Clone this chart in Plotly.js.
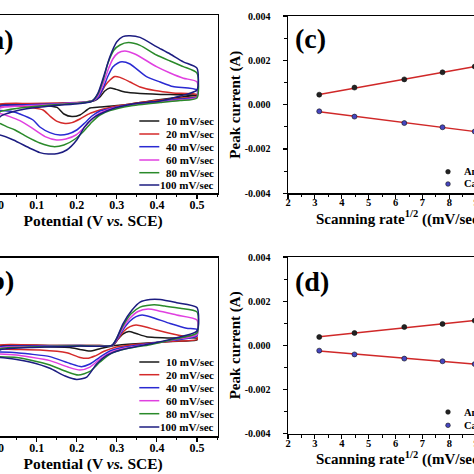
<!DOCTYPE html>
<html><head><meta charset="utf-8">
<script src="https://cdn.plot.ly/plotly-3.0.1.min.js"></script>
<style>
html,body{margin:0;padding:0;overflow:hidden;width:474px;height:474px;background:#fff}
#chart{position:absolute;left:-60px;top:0;width:660px;height:474px}
</style>
</head><body><div id="chart"></div>
<script>
// ---------- DATA ----------
const scanRates = ['10 mV/sec','20 mV/sec','40 mV/sec','60 mV/sec','80 mV/sec','100 mV/sec'];
const cvColors = ['#1a1a1a','#d42a2a','#2a2ad2','#e040e0','#2a8a2a','#1c1c80'];

// Panel (a): potential (V vs. SCE) and current (mA), forward then reverse sweep
const a10V = [0.000,0.008,0.083,0.158,0.220,0.245,0.258,0.270,0.283,0.298,0.320,0.358,0.433,0.500,0.500,0.483,0.400,0.315,0.258,0.233,0.208,0.188,0.168,0.151,0.121,0.058,0.008,0.000];
const a10I = [-0.025,0.01,0.025,0.04,0.06,0.11,0.20,0.35,0.425,0.39,0.325,0.29,0.26,0.25,0.24,0.225,0.125,0.0,-0.05,-0.075,-0.25,-0.29,-0.225,-0.06,-0.01,-0.005,-0.005,-0.01];
const a20V = [0.000,0.008,0.083,0.158,0.220,0.245,0.258,0.270,0.283,0.295,0.308,0.333,0.358,0.395,0.440,0.500,0.500,0.433,0.358,0.283,0.258,0.233,0.208,0.188,0.171,0.151,0.133,0.116,0.083,0.058,0.008,0.000];
const a20I = [-0.04,0.025,0.04,0.05,0.075,0.125,0.25,0.475,0.625,0.71,0.69,0.575,0.45,0.36,0.30,0.26,0.21,0.15,0.06,-0.06,-0.125,-0.21,-0.35,-0.44,-0.46,-0.41,-0.275,-0.125,-0.06,-0.03,-0.025,-0.04];
const a40V = [0.000,0.008,0.058,0.133,0.208,0.238,0.253,0.266,0.278,0.290,0.303,0.313,0.333,0.374,0.408,0.440,0.500,0.500,0.458,0.408,0.333,0.283,0.258,0.238,0.220,0.200,0.178,0.158,0.133,0.108,0.091,0.058,0.041,0.008,0.000];
const a40I = [-0.125,-0.025,0.0,0.025,0.06,0.10,0.175,0.425,0.725,0.95,1.05,1.08,1.025,0.71,0.575,0.46,0.375,0.20,0.15,0.09,0.01,-0.09,-0.15,-0.275,-0.45,-0.625,-0.725,-0.75,-0.69,-0.55,-0.375,-0.225,-0.17,-0.14,-0.14];
const a60V = [0.000,0.008,0.058,0.133,0.208,0.238,0.253,0.266,0.278,0.290,0.303,0.320,0.345,0.399,0.433,0.466,0.500,0.500,0.458,0.408,0.333,0.283,0.258,0.238,0.220,0.198,0.173,0.150,0.121,0.083,0.058,0.033,0.008,0.000];
const a60I = [-0.20,-0.075,-0.025,0.01,0.06,0.10,0.225,0.525,0.875,1.15,1.30,1.35,1.275,0.96,0.80,0.67,0.58,0.19,0.125,0.075,0.0,-0.10,-0.20,-0.35,-0.55,-0.75,-0.85,-0.875,-0.79,-0.54,-0.39,-0.29,-0.21,-0.20];
const a80V = [0.000,0.008,0.058,0.133,0.208,0.238,0.253,0.266,0.278,0.293,0.308,0.329,0.358,0.399,0.433,0.466,0.500,0.500,0.458,0.408,0.333,0.283,0.258,0.238,0.218,0.196,0.168,0.141,0.108,0.075,0.046,0.025,0.008,0.000];
const a80I = [-0.45,-0.175,-0.075,0.0,0.05,0.10,0.275,0.625,1.05,1.375,1.50,1.56,1.49,1.25,1.10,0.96,0.80,0.175,0.11,0.06,-0.025,-0.14,-0.25,-0.425,-0.65,-0.85,-1.00,-1.04,-0.95,-0.79,-0.625,-0.54,-0.46,-0.45];
const a100V = [0.000,0.008,0.058,0.133,0.208,0.238,0.253,0.266,0.283,0.300,0.315,0.333,0.358,0.399,0.433,0.466,0.500,0.500,0.458,0.408,0.340,0.295,0.258,0.241,0.220,0.200,0.175,0.153,0.129,0.108,0.083,0.042,0.008,0.000];
const a100I = [-0.75,-0.30,-0.125,-0.025,0.04,0.09,0.30,0.675,1.21,1.58,1.71,1.73,1.69,1.46,1.275,1.08,0.92,0.375,0.225,0.10,0.025,-0.075,-0.225,-0.325,-0.54,-0.875,-1.125,-1.21,-1.225,-1.19,-1.08,-0.875,-0.75,-0.74];

// Panel (b)
const b10V = [0.000,0.008,0.133,0.258,0.290,0.303,0.315,0.330,0.348,0.374,0.440,0.500,0.500,0.433,0.358,0.295,0.258,0.233,0.208,0.183,0.108,0.008,0.000];
const b10I = [-0.03,-0.01,-0.01,-0.01,-0.01,0.15,0.275,0.34,0.29,0.21,0.175,0.17,0.125,0.09,0.04,-0.01,-0.09,-0.15,-0.11,-0.06,-0.04,-0.025,-0.03];
const b20V = [0.000,0.008,0.133,0.258,0.290,0.303,0.318,0.333,0.348,0.370,0.399,0.465,0.500,0.500,0.433,0.358,0.295,0.270,0.245,0.229,0.208,0.175,0.108,0.046,0.008,0.000];
const b20I = [-0.10,0.0,-0.01,-0.01,-0.01,0.15,0.35,0.46,0.50,0.46,0.375,0.225,0.21,0.14,0.09,0.025,-0.06,-0.15,-0.275,-0.33,-0.31,-0.19,-0.125,-0.11,-0.10,-0.10];
const b40V = [0.000,0.008,0.083,0.208,0.288,0.300,0.315,0.333,0.348,0.363,0.383,0.433,0.474,0.500,0.500,0.445,0.383,0.320,0.283,0.258,0.233,0.212,0.183,0.133,0.083,0.050,0.008,0.000];
const b40I = [-0.175,-0.05,-0.025,-0.01,-0.01,0.125,0.375,0.60,0.71,0.75,0.71,0.54,0.42,0.39,0.225,0.125,0.04,-0.05,-0.15,-0.30,-0.475,-0.54,-0.46,-0.29,-0.225,-0.19,-0.175,-0.175];
const b60V = [0.000,0.008,0.083,0.208,0.288,0.300,0.315,0.333,0.353,0.378,0.403,0.449,0.500,0.500,0.445,0.383,0.320,0.283,0.258,0.233,0.208,0.178,0.133,0.083,0.050,0.008,0.000];
const b60I = [-0.25,-0.075,-0.04,-0.02,-0.01,0.15,0.425,0.675,0.84,0.90,0.86,0.75,0.625,0.26,0.14,0.025,-0.075,-0.19,-0.35,-0.55,-0.625,-0.55,-0.39,-0.30,-0.25,-0.225,-0.225];
const b80V = [0.000,0.008,0.083,0.208,0.288,0.300,0.315,0.335,0.358,0.393,0.420,0.458,0.500,0.500,0.445,0.383,0.320,0.283,0.258,0.233,0.204,0.171,0.133,0.083,0.050,0.008,0.000];
const b80I = [-0.31,-0.10,-0.05,-0.02,-0.01,0.175,0.475,0.775,0.95,1.01,0.975,0.92,0.83,0.30,0.15,0.01,-0.10,-0.225,-0.425,-0.66,-0.75,-0.65,-0.50,-0.375,-0.31,-0.29,-0.29];
const b100V = [0.000,0.008,0.083,0.208,0.288,0.300,0.315,0.338,0.358,0.383,0.408,0.449,0.500,0.500,0.440,0.383,0.308,0.275,0.250,0.225,0.200,0.171,0.133,0.083,0.050,0.008,0.000];
const b100I = [-0.325,-0.125,-0.06,-0.025,-0.01,0.175,0.525,0.875,1.075,1.14,1.14,1.06,0.94,0.35,0.16,0.03,-0.13,-0.26,-0.47,-0.80,-0.86,-0.775,-0.58,-0.425,-0.36,-0.31,-0.31];

// Panels (c) and (d): peak current (A) vs sqrt(scan rate)
const sqrtRate = [3.162, 4.472, 6.325, 7.746, 8.944, 10.000];
const cAnodic = [0.00045, 0.00077, 0.00114, 0.00146, 0.00172, 0.00195];
const cCathodic = [-0.00030, -0.00054, -0.00083, -0.00102, -0.00121, -0.00137];
const dAnodic = [0.00038, 0.00056, 0.00083, 0.00097, 0.00112, 0.00126];
const dCathodic = [-0.00024, -0.00041, -0.00060, -0.00072, -0.00085, -0.00096];
const peakNames = ['Anodic', 'Cathodic'];
const peakTickVals = [-0.004, -0.002, 0, 0.002, 0.004];
const peakTickText = ['-0.004', '-0.002', '0.000', '0.002', '0.004'];
const panelLabels = ['(a)', '(b)', '(c)', '(d)'];

// ---------- BUILD ----------
const W = 660, H = 474, OFF = 60;
const PX = p => (p + OFF) / W;     // page x -> paper
const PY = p => 1 - p / H;         // page y -> paper
const FONT = 'Liberation Serif, Times New Roman, serif';

const aSets = [[a10V,a10I],[a20V,a20I],[a40V,a40I],[a60V,a60I],[a80V,a80I],[a100V,a100I]];
const bSets = [[b10V,b10I],[b20V,b20I],[b40V,b40I],[b60V,b60I],[b80V,b80I],[b100V,b100I]];

const traces = [];
aSets.forEach((s, i) => traces.push({x: s[0], y: s[1], xaxis: 'x', yaxis: 'y', mode: 'lines', name: scanRates[i],
  line: {color: cvColors[i], width: 1.5, shape: 'spline', smoothing: 0.6}, showlegend: false}));
bSets.forEach((s, i) => traces.push({x: s[0], y: s[1], xaxis: 'x2', yaxis: 'y2', mode: 'lines', name: scanRates[i],
  line: {color: cvColors[i], width: 1.5, shape: 'spline', smoothing: 0.6}, showlegend: false}));

function fit(xs, ys) {
  const n = xs.length, mx = xs.reduce((a,b)=>a+b)/n, my = ys.reduce((a,b)=>a+b)/n;
  let sxy = 0, sxx = 0;
  xs.forEach((x, i) => { sxy += (x-mx)*(ys[i]-my); sxx += (x-mx)*(x-mx); });
  const k = sxy/sxx, b = my - k*mx;
  const x0 = Math.min(...xs), x1 = Math.max(...xs);
  return {x: [x0, x1], y: [k*x0+b, k*x1+b]};
}
const markerCols = ['#222222', '#4646c0'];
[[cAnodic, cCathodic, 'x3', 'y3'], [dAnodic, dCathodic, 'x4', 'y4']].forEach(p => {
  [p[0], p[1]].forEach((ys, j) => {
    const f = fit(sqrtRate, ys);
    traces.push({x: f.x, y: f.y, xaxis: p[2], yaxis: p[3], mode: 'lines', line: {color: '#d02828', width: 1.5}, showlegend: false, hoverinfo: 'skip'});
    traces.push({x: sqrtRate, y: ys, xaxis: p[2], yaxis: p[3], mode: 'markers', name: peakNames[j],
      marker: {color: markerCols[j], size: 5, line: {color: '#111', width: 0.6}}, showlegend: false});
  });
});

const axBase = {showline: true, linecolor: '#000', linewidth: 1.5, mirror: true, ticks: 'outside',
  ticklen: 4, tickwidth: 1.2, tickcolor: '#000', showgrid: false, zeroline: false,
  tickfont: {family: FONT, size: 12, color: '#000', weight: 'bold'}};
const titleFont = {family: FONT, size: 15.5, color: '#000', weight: 'bold'};

function potAxis(dom, anchor) {
  return Object.assign({}, axBase, {domain: dom, anchor: anchor, range: [-0.07, 0.552], dtick: 0.1, tick0: 0,
    tickformat: '.1f', ticklabelstandoff: -4,
    minor: {dtick: 0.05, ticklen: 2.5, tickwidth: 1, tickcolor: '#000', ticks: 'outside'},
    title: {text: 'Potential (V <i>vs.</i> SCE)', font: titleFont, standoff: 2}});
}
function curAxis(dom, anchor, rng) {
  return Object.assign({}, axBase, {domain: dom, anchor: anchor, range: rng, dtick: 1});
}
function rateAxis(dom, anchor) {
  return Object.assign({}, axBase, {domain: dom, anchor: anchor, range: [2, 11], dtick: 1, tick0: 2,
    ticklabelstandoff: -5,
    tickfont: {family: FONT, size: 10.5, color: '#000', weight: 'bold'},
    minor: {dtick: 0.5, ticklen: 2.5, tickwidth: 1, tickcolor: '#000', ticks: 'outside'},
    title: {text: 'Scanning rate<sup>1/2</sup> ((mV/sec)<sup>1/2</sup>)', font: Object.assign({}, titleFont, {size: 15}), standoff: 1}});
}
function peakAxis(dom, anchor) {
  return Object.assign({}, axBase, {domain: dom, anchor: anchor, range: [-0.004, 0.004],
    tickmode: 'array', tickvals: peakTickVals, ticktext: peakTickText, ticklabelstandoff: 10,
    tickfont: {family: FONT, size: 10, color: '#000', weight: 'bold'},
    minor: {dtick: 0.001, ticklen: 2.5, tickwidth: 1, tickcolor: '#000', ticks: 'outside'},
    title: {text: 'Peak current (A)', font: Object.assign({}, titleFont, {size: 15}), standoff: 0}});
}

const xL = [PX(-31.46), PX(217.8)], xR = [PX(288), PX(530)];
const yA = [PY(193), PY(15)], yB = [PY(436), PY(257.5)], yC = [PY(193.3), PY(16)], yD = [PY(433.7), PY(257)];

const annotations = [], shapes = [];
// panel labels
const labelPos = [[15.5, 39, 'right'], [15.5, 280, 'right'], [293, 38, 'left'], [293, 281, 'left']];
panelLabels.forEach((t, i) => annotations.push({text: t, xref: 'paper', yref: 'paper', x: PX(labelPos[i][0]), y: PY(labelPos[i][1]),
  xanchor: labelPos[i][2], yanchor: 'middle', showarrow: false, font: {family: FONT, size: 28, color: '#000', weight: 'bold'}}));
// CV legends
const legRowsA = [121, 134, 146.7, 160, 172.7, 185];
const legRowsB = [362, 374.7, 387.7, 400.7, 413.7, 427];
[legRowsA, legRowsB].forEach(rows => {
  rows.forEach((ry, i) => {
    shapes.push({type: 'line', xref: 'paper', yref: 'paper', x0: PX(139.3), x1: PX(159.3), y0: PY(ry), y1: PY(ry),
      line: {color: cvColors[i], width: 1.5}});
    annotations.push({text: scanRates[i], xref: 'paper', yref: 'paper', x: PX(215.5), y: PY(ry), xanchor: 'right', yanchor: 'middle',
      showarrow: false, font: {family: FONT, size: 11, color: '#000', weight: 'bold'}});
  });
});
// peak legends
[[171.7, 184], [412, 425.3]].forEach(rows => {
  rows.forEach((ry, j) => {
    shapes.push({type: 'circle', xref: 'paper', yref: 'paper', xsizemode: 'pixel', ysizemode: 'pixel',
      xanchor: PX(448), yanchor: PY(ry), x0: -2.3, x1: 2.3, y0: -2.3, y1: 2.3,
      fillcolor: markerCols[j], line: {color: '#111', width: 0.6}});
    annotations.push({text: peakNames[j], xref: 'paper', yref: 'paper', x: PX(461.5), y: PY(ry), xanchor: 'left', yanchor: 'middle',
      showarrow: false, font: {family: FONT, size: 10.5, color: '#000', weight: 'bold'}});
  });
});

const layout = {
  width: W, height: H, margin: {l: 0, r: 0, t: 0, b: 0}, paper_bgcolor: '#fff', plot_bgcolor: '#fff',
  showlegend: false, font: {family: FONT, color: '#000'},
  xaxis: potAxis(xL, 'y'), yaxis: curAxis(yA, 'x', [-2.2, 2.25]),
  xaxis2: potAxis(xL, 'y2'), yaxis2: curAxis(yB, 'x2', [-2.275, 2.19]),
  xaxis3: rateAxis(xR, 'y3'), yaxis3: peakAxis(yC, 'x3'),
  xaxis4: rateAxis(xR, 'y4'), yaxis4: peakAxis(yD, 'x4'),
  annotations: annotations, shapes: shapes
};
Plotly.newPlot('chart', traces, layout, {displayModeBar: false, staticPlot: true});
</script>
</body></html>
